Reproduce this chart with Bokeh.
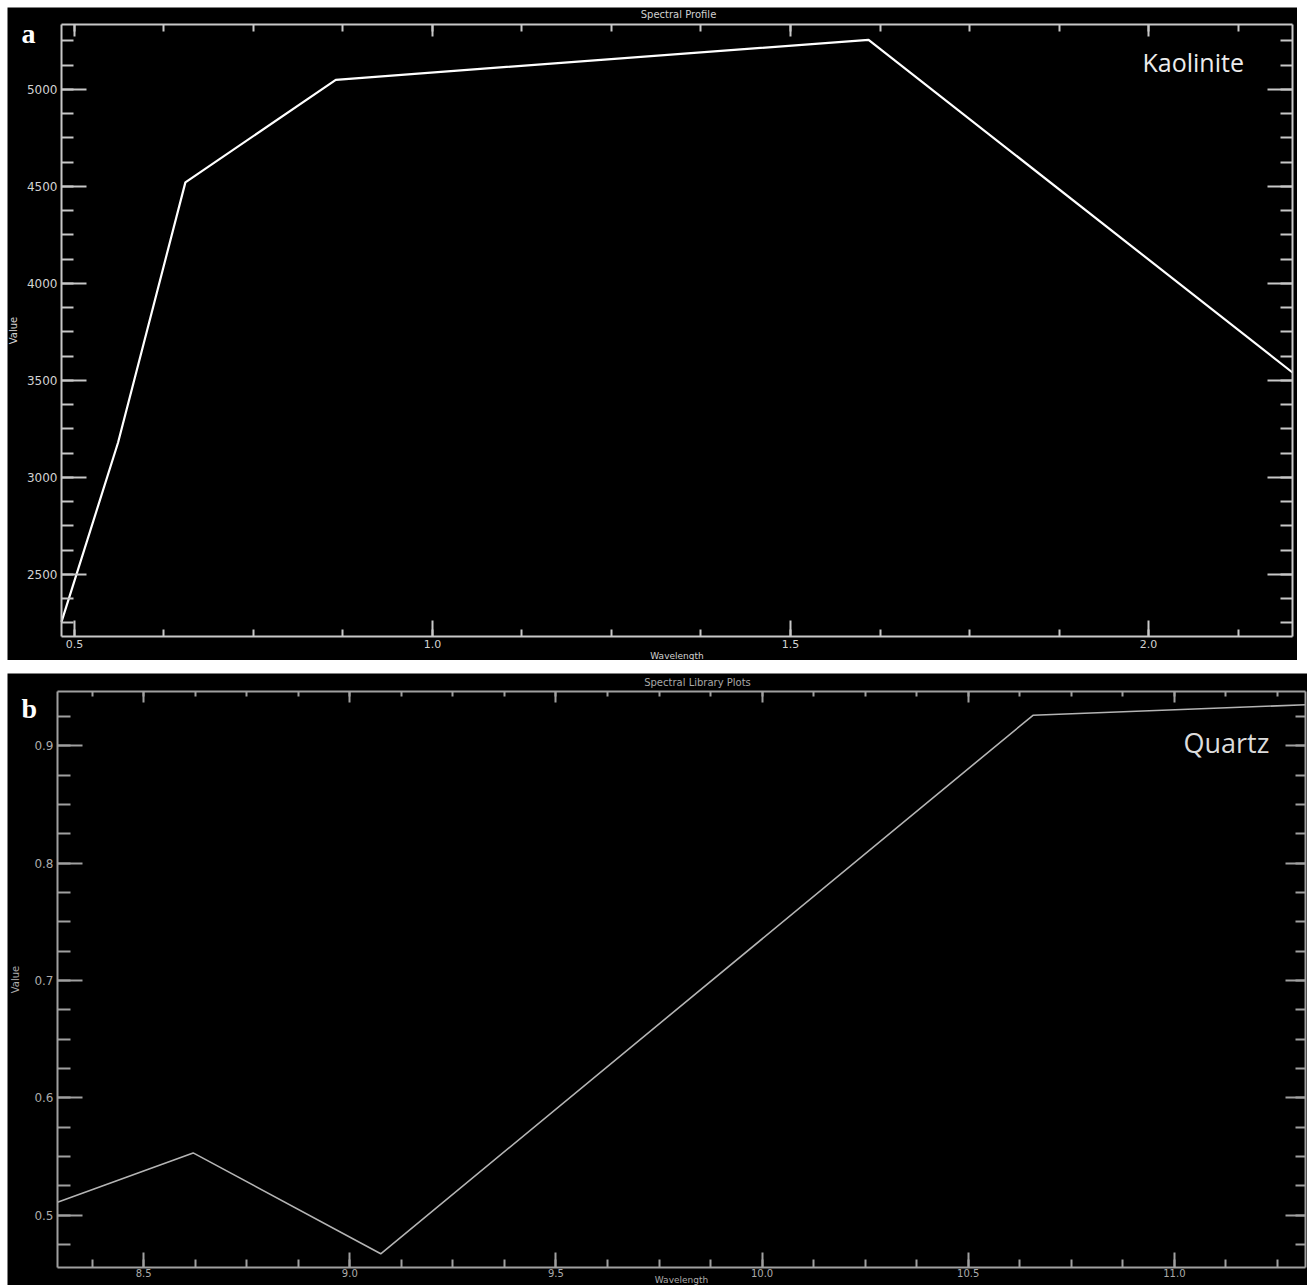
import math
from bokeh.plotting import figure
from bokeh.models import (Range1d, LinearAxis, SingleIntervalTicker, Label,
                          CustomJSTickFormatter, NumeralTickFormatter)
from bokeh.layouts import column
from bokeh.embed import file_html
from bokeh.resources import INLINE

# ---- data ----
kaolinite_wavelength = [0.482, 0.561, 0.655, 0.865, 1.609, 2.201]
kaolinite_value = [2255, 3180, 4521, 5050, 5256, 3541]
kaolinite_yrange = [2180, 5335]

quartz_wavelength = [8.291, 8.62, 9.075, 10.657, 11.318]
quartz_value = [0.511, 0.553, 0.467, 0.926, 0.935]
quartz_yrange = [0.4553, 0.9463]

panel_titles = ["Spectral Profile", "Spectral Library Plots"]
x_label = "Wavelength"
y_label = "Value"
mineral_names = ["Kaolinite", "Quartz"]
panel_letters = ["a", "b"]


def blank():
    return CustomJSTickFormatter(code="return ''")


def style_axis(ax, color, lab_color, tick_in, minor_in, lab_size, fmt, standoff):
    ax.axis_line_color = color
    ax.axis_line_width = 2
    ax.major_tick_line_color = color
    ax.minor_tick_line_color = color
    ax.major_tick_line_width = 2
    ax.minor_tick_line_width = 2
    ax.major_tick_in = tick_in
    ax.major_tick_out = 0
    ax.minor_tick_in = minor_in
    ax.minor_tick_out = 0
    ax.major_label_text_color = lab_color
    ax.major_label_text_font = "DejaVu Sans"
    ax.major_label_text_font_size = lab_size
    ax.major_label_standoff = standoff
    ax.formatter = fmt


def padded(lo, hi, frame_lo_px, frame_hi_px, canvas_px):
    """Extend the axis limits so that [lo, hi] fills the frame box inside the canvas."""
    per_px = (hi - lo) / (frame_hi_px - frame_lo_px)
    return lo - frame_lo_px * per_px, hi + (canvas_px - frame_hi_px) * per_px


def make_panel(x, y, yr, W, H, fbox, xint, yint, yfmt, xfmt,
               line_color, line_width, axis_color, lab_color,
               ytick, xtick, toptick, rtick, ylab_standoff, xlab_size,
               xtick_standoff, xlab_standoff):
    # fbox = frame box inside canvas: left, right, top, bottom (pixels from canvas top-left)
    fl, fr, ft, fb = fbox
    xa, xb = x[0], x[-1]
    ya, yb = yr
    x0, x1 = padded(xa, xb, fl, fr, W)
    y0, y1 = padded(ya, yb, H - fb, H - ft, H)
    p = figure(width=W, height=H, x_range=Range1d(x0, x1), y_range=Range1d(y0, y1),
               output_backend="svg", toolbar_location=None,
               x_axis_location=None, y_axis_location=None,
               min_border_left=0, min_border_right=0,
               min_border_top=0, min_border_bottom=0)
    p.title.visible = False
    p.background_fill_color = "black"
    p.border_fill_color = "black"
    p.outline_line_color = None
    p.xgrid.visible = False
    p.ygrid.visible = False

    below = LinearAxis(ticker=SingleIntervalTicker(interval=xint, num_minor_ticks=4),
                       fixed_location=ya, bounds=(xa, xb))
    style_axis(below, axis_color, lab_color, xtick[0], xtick[1], xlab_size,
               NumeralTickFormatter(format=xfmt), xtick_standoff)
    below.axis_label = x_label
    below.axis_label_text_font = "DejaVu Sans"
    below.axis_label_text_font_size = "9px"
    below.axis_label_text_font_style = "normal"
    below.axis_label_text_color = lab_color
    below.axis_label_standoff = xlab_standoff
    p.add_layout(below, "below")

    left = LinearAxis(ticker=SingleIntervalTicker(interval=yint, num_minor_ticks=4),
                      fixed_location=xa, bounds=(ya, yb))
    style_axis(left, axis_color, lab_color, ytick[0], ytick[1], "12px",
               NumeralTickFormatter(format=yfmt), 4)
    left.axis_label = y_label
    left.axis_label_text_font = "DejaVu Sans"
    left.axis_label_text_font_size = "10px"
    left.axis_label_text_font_style = "normal"
    left.axis_label_text_color = lab_color
    left.axis_label_standoff = ylab_standoff
    p.add_layout(left, "left")

    top = LinearAxis(ticker=SingleIntervalTicker(interval=xint, num_minor_ticks=4),
                     fixed_location=yb, bounds=(xa, xb))
    style_axis(top, axis_color, lab_color, toptick[0], toptick[1], "1px", blank(), 0)
    p.add_layout(top, "above")

    right = LinearAxis(ticker=SingleIntervalTicker(interval=yint, num_minor_ticks=4),
                       fixed_location=xb, bounds=(ya, yb))
    style_axis(right, axis_color, lab_color, rtick[0], rtick[1], "1px", blank(), 0)
    p.add_layout(right, "right")

    p.line(x, y, line_color=line_color, line_width=line_width)
    return p


def add_texts(p, H, title, title_c, name, name_xy, name_size, name_color,
              letter, letter_xy, txt_color):
    # coordinates given from the canvas top-left; Label screen y counts from the bottom
    p.add_layout(Label(x=title_c[0], y=H - title_c[1], x_units="screen", y_units="screen",
                       text=title, text_align="center", text_baseline="middle",
                       text_font="DejaVu Sans", text_font_size="10px",
                       text_color=txt_color))
    p.add_layout(Label(x=name_xy[0], y=H - name_xy[1], x_units="screen", y_units="screen",
                       text=name, text_align="left", text_baseline="alphabetic",
                       text_font="Open Sans", text_font_size=name_size,
                       text_color=name_color))
    p.add_layout(Label(x=letter_xy[0], y=H - letter_xy[1], x_units="screen", y_units="screen",
                       text=letter, text_align="left", text_baseline="alphabetic",
                       text_font="Liberation Serif", text_font_style="bold",
                       text_font_size="28px", text_color="#ffffff"))


# ---- panel a : canvas at page (7,7) size 1290x653, frame page x 61..1292, y 24..636 ----
W1, H1 = 1290, 653
p1 = make_panel(kaolinite_wavelength, kaolinite_value, kaolinite_yrange,
                W1, H1, (54, 1285, 17, 629), 0.5, 500, "0", "0.0",
                "#ffffff", 2.2, "#c8c8c8", "#d2d2d2",
                (25, 12), (16, 7), (12, 7), (25, 12), 5, "11px", 3, 0)
p1.margin = (7, 0, 0, 7)
add_texts(p1, H1, panel_titles[0], (671, 7), mineral_names[0], (1135, 54), "25px",
          "#ececec", panel_letters[0], (14, 26), "#d0d0d0")

# ---- panel b : canvas at page (7,673) size 1300x612, frame page x 57..1305, y 691..1267 ----
W2, H2 = 1300, 612
p2 = make_panel(quartz_wavelength, quartz_value, quartz_yrange,
                W2, H2, (50, 1298, 18, 594), 0.5, 0.1, "0.0", "0.0",
                "#b4b4b4", 1.6, "#a0a0a0", "#ababab",
                (25, 13), (15, 8), (11, 5), (20, 10), 10, "10px", 1, -5)
p2.margin = (13, 0, 0, 7)
add_texts(p2, H2, panel_titles[1], (690, 9), mineral_names[1], (1176, 69), "27px",
          "#dcdcdc", panel_letters[1], (14, 35), "#a8a8a8")

layout = column(p1, p2)
layout.spacing = 0
open("out.html", "w").write(file_html(layout, INLINE))
